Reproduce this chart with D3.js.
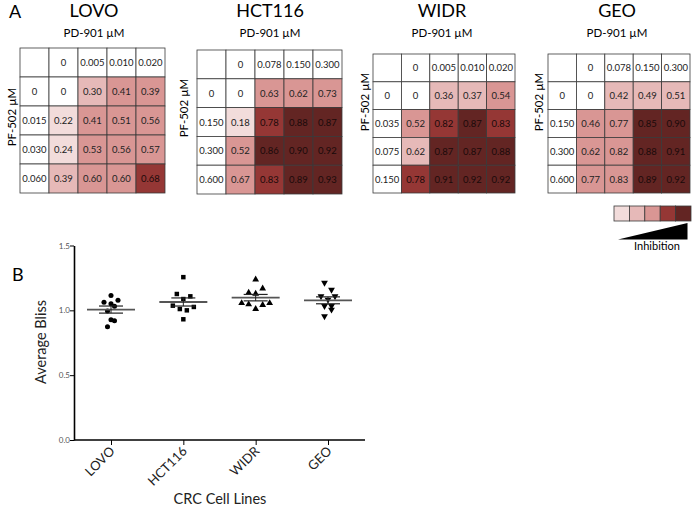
<!DOCTYPE html>
<html><head><meta charset="utf-8">
<script src="https://cdn.jsdelivr.net/npm/d3@7"></script>
<style>body{margin:0;background:#fff}svg{display:block}text{font-family:Lato,"Open Sans",sans-serif}</style>
</head><body><svg id="c" width="695" height="508"></svg>
<script>
// ---------- DATA ----------
const cellLines = ["LOVO","HCT116","WIDR","GEO"];
const pdDoses = [["0","0.005","0.010","0.020"],["0","0.078","0.150","0.300"],["0","0.005","0.010","0.020"],["0","0.078","0.150","0.300"]];
const pfDoses = [["0","0.015","0.030","0.060"],["0","0.150","0.300","0.600"],["0","0.035","0.075","0.150"],["0","0.150","0.300","0.600"]];
const inhibLOVO = [[0,0.30,0.41,0.39],[0.22,0.41,0.51,0.56],[0.24,0.53,0.56,0.57],[0.39,0.60,0.60,0.68]];
const inhibHCT116 = [[0,0.63,0.62,0.73],[0.18,0.78,0.88,0.87],[0.52,0.86,0.90,0.92],[0.67,0.83,0.89,0.93]];
const inhibWIDR = [[0,0.36,0.37,0.54],[0.52,0.82,0.87,0.83],[0.62,0.87,0.87,0.88],[0.78,0.91,0.92,0.92]];
const inhibGEO = [[0,0.42,0.49,0.51],[0.46,0.77,0.85,0.90],[0.62,0.82,0.88,0.91],[0.77,0.83,0.89,0.92]];
// inhibition class shown by each cell's shading (0 = none ... 5 = strongest)
const levelLOVO = [[0,2,3,3],[1,3,3,3],[1,3,3,3],[2,3,3,4]];
const levelHCT116 = [[0,3,3,3],[1,4,5,5],[3,5,5,5],[3,4,5,5]];
const levelWIDR = [[0,2,2,3],[3,4,5,4],[2,5,5,5],[4,5,5,5]];
const levelGEO = [[0,2,2,2],[3,3,5,5],[3,3,5,5],[3,3,5,5]];
const legendLevels = [1,2,3,4,5];
const blissLOVO = [1.115,1.062,1.077,1.051,1.031,0.995,0.928,0.920,0.874];
const blissHCT116 = [1.256,1.126,1.108,1.087,1.036,1.010,1.000,1.026,0.931];
const blissWIDR = [1.238,1.169,1.136,1.128,1.056,1.046,1.010,1.041,1.056];
const blissGEO = [1.213,1.159,1.108,1.108,1.082,1.033,1.033,1.005,0.954];
const yTicks = [0,0.5,1.0,1.5];

// ---------- LAYOUT / STYLE ----------
const inhib = [inhibLOVO,inhibHCT116,inhibWIDR,inhibGEO];
const levels = [levelLOVO,levelHCT116,levelWIDR,levelGEO];
const bliss = [blissLOVO,blissHCT116,blissWIDR,blissGEO];
const panels = [
  {x:20, y:48, w:145, h:145, tx:94, px:13, py:117},
  {x:197,y:50, w:145, h:144, tx:270, px:185, py:108},
  {x:373,y:54, w:142, h:139, tx:442, px:366, py:102},
  {x:548,y:54, w:142, h:139, tx:617, px:540, py:102}
];
const color = d3.scaleOrdinal().domain([0,1,2,3,4,5])
  .range(["#ffffff","#f2dcdb","#e6b9b8","#d99694","#953735","#632523"]);

const svg = d3.select("#c");

svg.append("text").attr("x",9).attr("y",18).attr("font-size",18).text("A");

cellLines.forEach((name,i)=>{
  const p = panels[i];
  const g = svg.append("g");
  const xs = d3.scaleBand().domain(d3.range(5)).range([p.x,p.x+p.w]);
  const ys = d3.scaleBand().domain(d3.range(5)).range([p.y,p.y+p.h]);
  g.append("text").attr("x",p.tx).attr("y",17).attr("text-anchor","middle").attr("font-size",18).text(name);
  g.append("text").attr("x",p.tx).attr("y",37).attr("text-anchor","middle").attr("font-size",11.5).text("PD-901 µM");
  g.append("text").attr("transform",`translate(${p.px},${p.py}) rotate(-90)`).attr("text-anchor","middle")
    .attr("dominant-baseline","middle").attr("font-size",11.5).text("PF-502 µM");
  const cells = [];
  for(let r=0;r<5;r++) for(let c=0;c<5;c++){
    let txt="", lvl=0;
    if(r===0 && c>0) txt = pdDoses[i][c-1];
    else if(c===0 && r>0) txt = pfDoses[i][r-1];
    else if(r>0 && c>0){ const v = inhib[i][r-1][c-1]; txt = v===0?"0":v.toFixed(2); lvl = levels[i][r-1][c-1]; }
    cells.push({r,c,txt,lvl});
  }
  g.selectAll("rect").data(cells).join("rect")
    .attr("x",d=>xs(d.c)).attr("y",d=>ys(d.r)).attr("width",xs.bandwidth()).attr("height",ys.bandwidth())
    .attr("fill",d=>color(d.lvl)).attr("stroke","#3a3a3a").attr("stroke-width",0.8);
  g.selectAll("text.v").data(cells).join("text").attr("class","v")
    .attr("x",d=>xs(d.c)+xs.bandwidth()/2).attr("y",d=>ys(d.r)+ys.bandwidth()/2)
    .attr("text-anchor","middle").attr("dominant-baseline","central")
    .attr("font-size",9.5).attr("fill",d=>d.lvl>=4?"#1a0a0a":"#222").text(d=>d.txt);
});

// legend
const lx = d3.scaleBand().domain(legendLevels).range([614,691]);
svg.append("g").selectAll("rect").data(legendLevels).join("rect")
  .attr("x",d=>lx(d)).attr("y",206).attr("width",lx.bandwidth()).attr("height",15)
  .attr("fill",d=>color(d)).attr("stroke","#3a3a3a").attr("stroke-width",0.8);
svg.append("path").attr("d","M618,239.5L687.5,223L687.5,239.5Z").attr("fill","#000");
svg.append("text").attr("x",657).attr("y",250).attr("text-anchor","middle").attr("font-size",11).text("Inhibition");

// ---------- Panel B ----------
svg.append("text").attr("x",12).attr("y",281).attr("font-size",18).text("B");
const x = d3.scalePoint().domain(cellLines).range([111,328]);
const y = d3.scaleLinear().domain([0,1.5]).range([440,245.5]);
const axisColor = "#000";
const gy = svg.append("g").attr("transform","translate(74,0)")
  .call(d3.axisLeft(y).tickValues(yTicks).tickFormat(d3.format(".1f")).tickSize(4).tickSizeOuter(0));
gy.select(".domain").attr("stroke",axisColor).attr("stroke-width",1.6);
gy.selectAll(".tick line").attr("stroke",axisColor).attr("stroke-width",1);
gy.selectAll(".tick text").attr("font-family","Liberation Sans, Arial, sans-serif").attr("font-size",8).attr("fill","#555").attr("x",-4);

const xAxis = d3.axisBottom(x).tickSize(5).tickSizeOuter(0);
const gx = svg.append("g").attr("transform","translate(0,440)").call(xAxis);
gx.select(".domain").attr("d","M74,0H365").attr("stroke",axisColor).attr("stroke-width",1.6);
gx.selectAll(".tick line").attr("stroke",axisColor).attr("stroke-width",1);
gx.selectAll(".tick text").attr("font-size",13).attr("fill","#222")
  .attr("text-anchor","end").attr("dy",0).attr("y",0)
  .attr("transform","translate(4,12) rotate(-45)");

svg.append("text").attr("transform","translate(46,342) rotate(-90)").attr("text-anchor","middle")
  .attr("font-size",14.5).attr("fill","#222").text("Average Bliss");
svg.append("text").attr("x",220).attr("y",504).attr("text-anchor","middle").attr("font-size",14.5).attr("fill","#222").text("CRC Cell Lines");

const shapes = [d3.symbolCircle,d3.symbolSquare,d3.symbolTriangle,d3.symbolTriangle];
// horizontal jitter columns as in the scatter (pixel offsets)
const jitter = [
  [0,-7,7,0,3.5,-3.5,0,3.5,-3.5],
  [0,-6.5,7,0,-10.5,-3.5,3.5,10.5,0],
  [0,7,-7,0,-14,-7,0,7,14],
  [-3.5,3.5,-7,7,0,-3.5,3.5,3.5,-3.5]
];
cellLines.forEach((name,i)=>{
  const vals = bliss[i];
  const cx = x(name);
  const mean = d3.mean(vals);
  const sem = d3.deviation(vals)/Math.sqrt(vals.length);
  const g = svg.append("g");
  g.selectAll("path.pt").data(vals).join("path").attr("class","pt")
    .attr("d",d3.symbol(shapes[i],20))
    .attr("transform",(d,j)=>`translate(${cx+jitter[i][j]},${y(d)})${i===3?" rotate(180)":""}`)
    .attr("fill","#000");
  g.append("line").attr("x1",cx-24).attr("x2",cx+24).attr("y1",y(mean)).attr("y2",y(mean)).attr("stroke","#555").attr("stroke-width",1.8);
  g.append("line").attr("x1",cx).attr("x2",cx).attr("y1",y(mean+sem)).attr("y2",y(mean-sem)).attr("stroke","#222").attr("stroke-width",1);
  [mean+sem,mean-sem].forEach(v=>g.append("line").attr("x1",cx-12).attr("x2",cx+12).attr("y1",y(v)).attr("y2",y(v)).attr("stroke","#222").attr("stroke-width",1.2));
});
</script></body></html>
